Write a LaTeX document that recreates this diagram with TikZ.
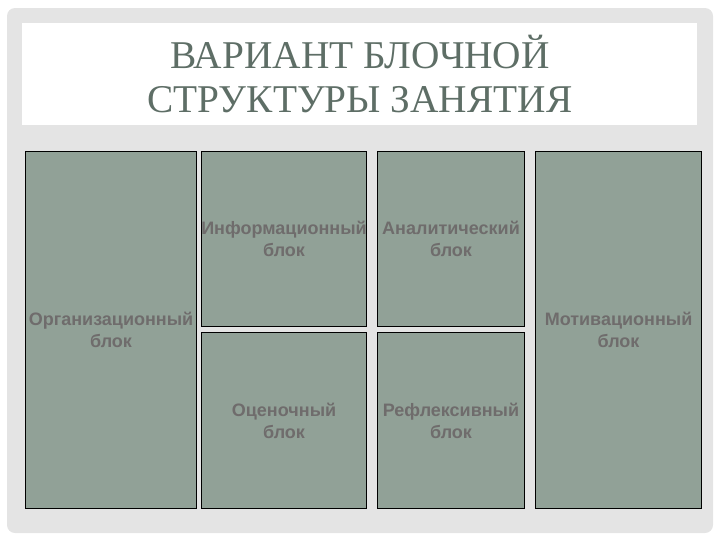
\documentclass[tikz,border=0pt]{standalone}
\usepackage{fontspec}
\setmainfont{Liberation Serif}
\newfontfamily\labelfont{Liberation Sans}
\usepackage{xcolor}
\usepackage{tikz}
\usetikzlibrary{positioning, calc}
\definecolor{panelgray}{RGB}{228,228,228}
\definecolor{blockfill}{RGB}{145,161,151}
\definecolor{labelgray}{RGB}{111,108,108}
\definecolor{titlegray}{RGB}{94,110,102}
\tikzstyle{block} = [rectangle, draw=black, line width=0.8pt, fill=blockfill, inner sep=0pt, anchor=north west]
\tikzstyle{blocktext} = [text=labelgray, align=center, font=\labelfont\bfseries\fontsize{13.5pt}{16.5pt}\selectfont]
\tikzstyle{titletext} = [text=titlegray, align=center, font=\rmfamily\fontsize{29.5pt}{33pt}\selectfont]

\begin{document}
\begin{tikzpicture}[x=0.75pt, y=-0.75pt]
\useasboundingbox (0,0) rectangle (720,540);
\fill [panelgray, rounded corners=6] (7,8) rectangle (713,533);
\fill [white] (22,23) rectangle (697,125);
\node (title) [titletext, anchor=base] at (360,112) {ВАРИАНТ БЛОЧНОЙ\\СТРУКТУРЫ ЗАНЯТИЯ};

\node (org) [block, minimum width=128.25pt, minimum height=267.75pt] at (25,151) {};
\node (info) [block, minimum width=123.75pt, minimum height=131.25pt] at (201,151) {};
\node (eval) [block, minimum width=123.75pt, minimum height=132pt] at (201,332) {};
\node (anal) [block, minimum width=110.25pt, minimum height=131.25pt] at (377,151) {};
\node (refl) [block, minimum width=110.25pt, minimum height=132pt] at (377,332) {};
\node (motiv) [block, minimum width=124.5pt, minimum height=267.75pt] at (535,151) {};

\node (orgtext) [blocktext] at (org.center) {Организационный\\блок};
\node (infotext) [blocktext] at (info.center) {Информационный\\блок};
\node (evaltext) [blocktext] at (eval.center) {Оценочный\\блок};
\node (analtext) [blocktext] at (anal.center) {Аналитический\\блок};
\node (refltext) [blocktext] at (refl.center) {Рефлексивный\\блок};
\node (motivtext) [blocktext] at (motiv.center) {Мотивационный\\блок};
\end{tikzpicture}
\end{document}
